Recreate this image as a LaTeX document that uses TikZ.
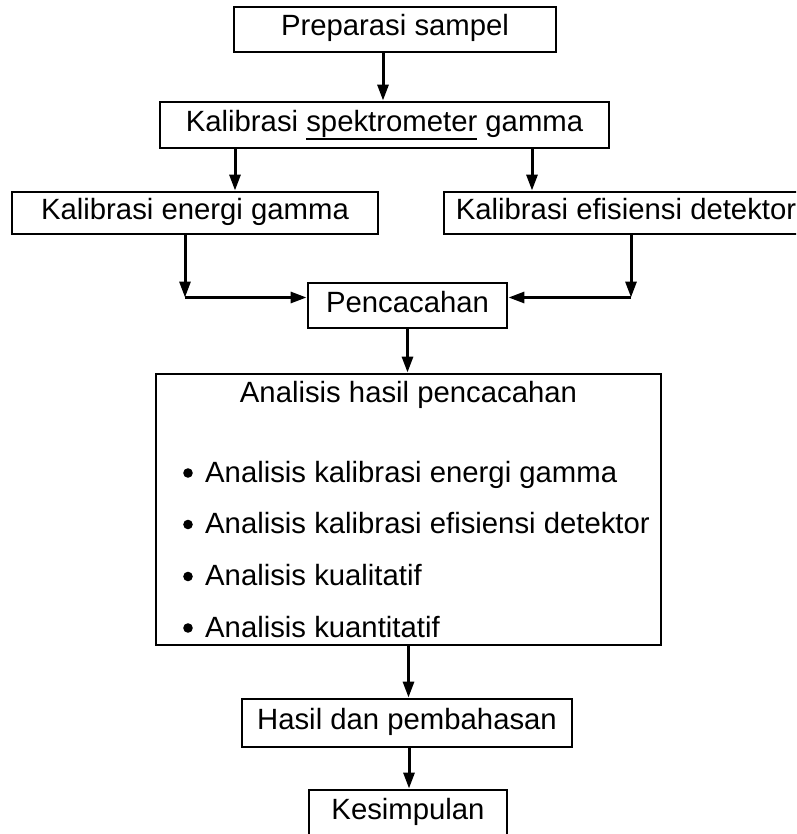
\documentclass[tikz,border=0pt]{standalone}
\usepackage{fontspec}
\setmainfont{Liberation Sans}
\usetikzlibrary{arrows.meta,calc}
\newcommand\ulword[1]{\setbox0=\hbox{#1}\rlap{\rule[-9pt]{\wd0}{2.2pt}}\box0\relax}
\begin{document}
\begin{tikzpicture}[x=1pt,y=-1pt,
  box/.style={draw,line width=2.9pt,inner sep=0pt,font=\fontsize{29.3}{34}\selectfont,text height=21pt,text depth=8pt,align=center},
  txt/.style={inner sep=0pt,font=\fontsize{29.3}{34}\selectfont},
  arr/.style={line width=3pt,-{Triangle[length=16pt,width=11pt]}}]
\clip (0,0) rectangle (796,834);
\fill[white] (0,0) rectangle (796,834);
% boxes
\node[box,minimum width=322pt,minimum height=45pt] (p1) at (395,29.5) {Preparasi sampel};
\node[box,minimum width=449pt,minimum height=46pt] (p2) at (384.5,125) {Kalibrasi \ulword{spektrometer} gamma};
\node[box,minimum width=366pt,minimum height=42pt] (p3) at (195,213) {Kalibrasi energi gamma};
\node[box,minimum width=364pt,minimum height=42pt] (p4) at (626,213) {Kalibrasi efisiensi detektor};
\node[box,minimum width=199pt,minimum height=45pt] (p5) at (407.5,305.5) {Pencacahan};
\node[draw,line width=2.9pt,minimum width=505pt,minimum height=271pt,inner sep=0pt] (p6) at (408.5,509.5) {};
\node[box,minimum width=330pt,minimum height=48pt] (p7) at (407,723) {Hasil dan pembahasan};
\node[box,minimum width=198pt,minimum height=46pt] (p8) at (408,813) {Kesimpulan};
% big box content
\node[txt,anchor=base] (t0) at (408.5,402) {Analisis hasil pencacahan};
\node[txt,anchor=base west] (t1) at (205,482) {Analisis kalibrasi energi gamma};
\node[txt,anchor=base west] (t2) at (205,533.5) {Analisis kalibrasi efisiensi detektor};
\node[txt,anchor=base west] (t3) at (205,585.5) {Analisis kualitatif};
\node[txt,anchor=base west] (t4) at (205,637) {Analisis kuantitatif};
\foreach \n in {t1,t2,t3,t4}{
  \fill ($(\n.base west)+(-17pt,9pt)$) circle[radius=4.8pt];
}
% connectors
\draw[arr] ([xshift=-12pt]p1.south) -- ([xshift=-12pt]p1.south |- p2.north);
\draw[arr] ([xshift=40pt]p3.north |- p2.south) -- ([xshift=40pt]p3.north);
\draw[arr] ([xshift=-94pt]p4.north |- p2.south) -- ([xshift=-94pt]p4.north);
\coordinate (c1) at (185,297.5);
\coordinate (c2) at (631,297.5);
\draw[arr] (c1 |- p3.south) -- (c1);
\draw[arr] (c1) -- (c1 -| p5.west);
\draw[arr] (c2 |- p4.south) -- (c2);
\draw[arr] (c2) -- (c2 -| p5.east);
\draw[arr] (p5.south) -- (p5.south |- p6.north);
\draw[arr] (p6.south) -- (p6.south |- p7.north);
\draw[arr] ([xshift=2pt]p7.south) -- ([xshift=2pt]p7.south |- p8.north);
\end{tikzpicture}
\end{document}
